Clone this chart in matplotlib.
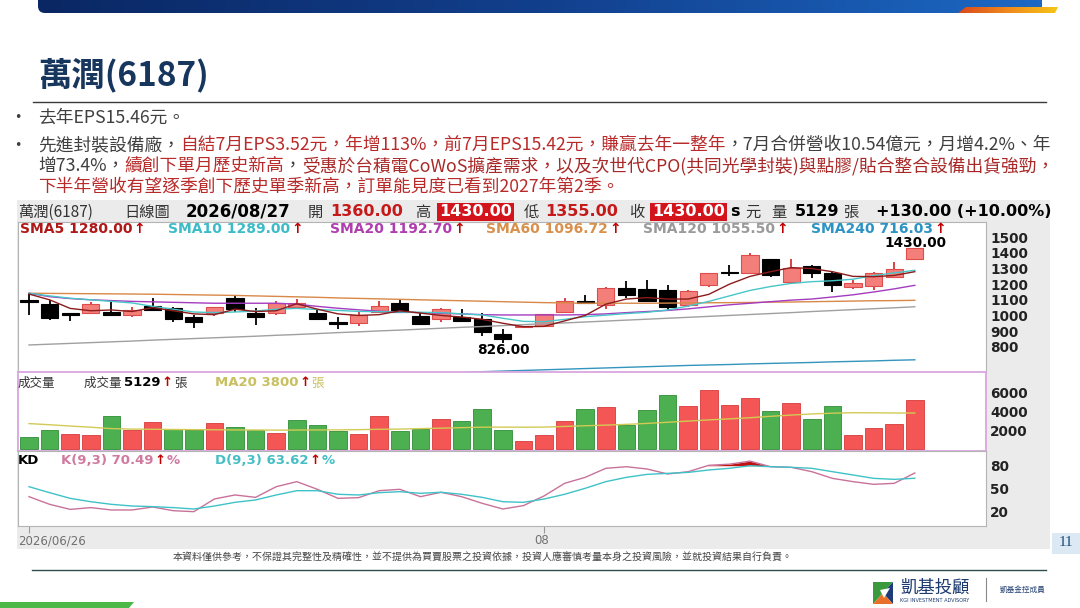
import numpy as np
import matplotlib.pyplot as plt
from matplotlib.colors import LinearSegmentedColormap
from matplotlib.patches import Rectangle, Polygon, FancyBboxPatch

W, H = 1080, 608
CJK = ['Noto Sans CJK TC', 'DejaVu Sans']
LAT = ['DejaVu Sans']

# daily candles, 2026/06/26 .. 2026/08/27
opens = [1100, 1071, 1008, 1014, 1024, 1001, 1060, 1046, 992, 1014, 1110, 1018, 1014, 1052, 1018,
         960, 954, 1024, 1082, 996, 975, 992, 975, 879, 926, 934, 1024, 1086, 1067, 1178,
         1167, 1163, 1067, 1195, 1276, 1274, 1359, 1216, 1318, 1274, 1184, 1191, 1244, 1360]
highs = [1135, 1099, 1012, 1088, 1099, 1052, 1112, 1052, 1000, 1055, 1131, 1050, 1090, 1103, 1035,
         988, 1024, 1092, 1103, 1014, 1045, 1039, 1014, 911, 933, 1012, 1110, 1130, 1180, 1220,
         1227, 1195, 1160, 1274, 1323, 1401, 1362, 1359, 1325, 1285, 1227, 1280, 1344, 1430]
lows = [1000, 971, 965, 1010, 996, 990, 1033, 960, 922, 996, 1024, 939, 1005, 1045, 970,
        912, 932, 1020, 1014, 942, 960, 955, 869, 826, 922, 930, 1020, 1078, 1041, 1114,
        1084, 1035, 1056, 1184, 1255, 1263, 1248, 1212, 1242, 1152, 1167, 1163, 1240, 1355]
closes = [1085, 982, 1005, 1071, 1003, 1035, 1037, 975, 956, 1052, 1039, 990, 1082, 1082, 975,
          945, 1003, 1060, 1024, 945, 1039, 966, 896, 850, 930, 1009, 1094, 1082, 1178, 1131,
          1092, 1056, 1156, 1270, 1272, 1386, 1259, 1306, 1270, 1195, 1205, 1270, 1300, 1430]

sma5 = [1137, 1100, 1045, 1030, 1035, 1025, 1050, 1030, 1010, 1005,
        1040, 1025, 1030, 1075, 1040, 1010, 1000, 1005, 1030, 1015,
        1000, 990, 975, 950, 928, 930, 965, 1000, 1072, 1105,
        1114, 1105, 1105, 1135, 1200, 1250, 1280, 1306, 1300, 1280,
        1250, 1248, 1256, 1280]
sma10 = [1142, 1125, 1110, 1100, 1090, 1080, 1058, 1040, 1022, 1018,
         1022, 1028, 1040, 1045, 1038, 1032, 1026, 1024, 1022, 1020,
         1018, 1010, 1003, 982, 962, 960, 975, 992, 1002, 1012,
         1020, 1035, 1060, 1090, 1125, 1160, 1185, 1205, 1216, 1222,
         1232, 1255, 1272, 1289]
sma20 = [1142, 1120, 1108, 1100, 1095, 1090, 1087, 1084, 1081, 1078,
         1078, 1078, 1078, 1072, 1058, 1046, 1036, 1027, 1022, 1018,
         1014, 1010, 1005, 1003, 1003, 1003, 1003, 1005, 1010, 1018,
         1025, 1032, 1042, 1055, 1068, 1078, 1088, 1098, 1105, 1118,
         1132, 1150, 1170, 1192.7]
sma60 = [1142, 1141, 1140, 1139, 1138, 1137, 1136, 1134, 1132, 1130,
         1128, 1125, 1122, 1119, 1116, 1112, 1109, 1106, 1103, 1100,
         1097, 1094, 1091, 1088, 1085, 1082, 1080, 1078, 1078, 1078,
         1078, 1079, 1080, 1081, 1082, 1083, 1085, 1086, 1088, 1090,
         1092, 1094, 1095, 1096.72]
sma120 = [811, 816, 821, 826, 831, 836, 842, 847, 852, 857,
          862, 867, 873, 878, 884, 890, 895, 901, 906, 912,
          918, 924, 929, 935, 941, 947, 952, 958, 964, 970,
          976, 982, 988, 994, 1000, 1006, 1012, 1018, 1025, 1031,
          1037, 1043, 1049, 1055.5]
sma240 = [548, 552, 556, 560, 564, 568, 572, 576, 580, 584,
          588, 592, 596, 600, 604, 608, 612, 616, 620, 624,
          628, 634, 640, 644, 648, 652, 656, 660, 664, 668,
          672, 676, 680, 683, 686, 690, 693, 696, 699, 703,
          706, 709, 713, 716.03]

volumes = [1250, 2030, 1540, 1430, 3460, 2030, 2850, 2110, 2030, 2790,
           2320, 2030, 1710, 3100, 2560, 1860, 1540, 3500, 1860, 2140,
           3210, 2930, 4210, 1960, 860, 1500, 2960, 4210, 4390, 2570,
           4070, 5710, 4540, 6210, 4600, 5390, 4030, 4850, 3170, 4560,
           1500, 2240, 2680, 5129]
vol_up = [0, 0, 1, 1, 0, 1, 1, 0, 0, 1, 0, 0, 1, 0, 0, 0, 1, 1, 0, 0,
          1, 0, 0, 0, 1, 1, 1, 0, 1, 0, 0, 0, 1, 1, 1, 1, 0, 1, 0, 0,
          1, 1, 1, 1]
vol_ma20 = [2680, 2560, 2420, 2300, 2150, 2100, 2080, 2060, 2040, 2030,
            2010, 2000, 1990, 2000, 2010, 2020, 2040, 2080, 2100, 2150,
            2200, 2250, 2300, 2310, 2300, 2310, 2380, 2450, 2520, 2600,
            2700, 2820, 2950, 3070, 3180, 3300, 3450, 3580, 3700, 3780,
            3830, 3820, 3800, 3800]

k_line = [39.6, 29.6, 23.0, 25.3, 22.2, 22.2, 26.1, 21.3, 20.0, 36.6,
          41.8, 38.7, 52.6, 59.2, 49.2, 37.4, 38.3, 47.4, 49.2, 39.6,
          45.3, 39.6, 30.9, 23.5, 27.9, 40.5, 57.0, 64.8, 76.6, 78.7,
          75.7, 69.2, 72.2, 80.5, 82.0, 86.0, 78.7, 77.9, 72.2, 63.5,
          59.2, 55.7, 57.0, 70.49]
d_line = [52.6, 44.8, 37.4, 33.0, 29.6, 27.4, 26.6, 25.3, 23.5, 27.4,
          32.2, 35.3, 41.8, 47.4, 47.4, 42.7, 41.8, 44.8, 46.1, 44.0,
          45.3, 42.7, 38.7, 33.0, 32.2, 36.5, 42.7, 50.5, 59.2, 64.8,
          68.7, 70.0, 71.3, 74.4, 76.6, 80.0, 78.7, 77.9, 76.6, 72.2,
          67.9, 63.5, 62.2, 63.62]

price_ticks = [800, 900, 1000, 1100, 1200, 1300, 1400, 1500]
vol_ticks = [2000, 4000, 6000]
kd_ticks = [20, 50, 80]
date_ticks = [0, 25]
date_labels = ['2026/06/26', '08']

fig = plt.figure(figsize=(W / 100, H / 100), dpi=100)
fig.patch.set_facecolor('white')
r = fig.canvas.get_renderer()


def full_ax(z):
    ax = fig.add_axes([0, 0, 1, 1], zorder=z)
    ax.axis('off')
    return ax


def pane(x0, y0, x1, y1):
    return fig.add_axes([x0 / W, 1 - y1 / H, (x1 - x0) / W, (y1 - y0) / H], zorder=2)


bg = full_ax(0)
fg = full_ax(5)

# top banner
grad = np.linspace(0, 1, 256).reshape(1, -1)
blue = LinearSegmentedColormap.from_list('b', ['#0a2763', '#123f8c', '#1c68c4'])
im = bg.imshow(grad, extent=(38, 1042, 13, 0), cmap=blue, aspect='auto', zorder=1)
clip = FancyBboxPatch((38, -12), 1004, 25, boxstyle='round,pad=0,rounding_size=7',
                      transform=bg.transData, fc='none', ec='none')
bg.add_patch(clip)
im.set_clip_path(clip)
orange = LinearSegmentedColormap.from_list('o', ['#d9481c', '#f08a1c', '#f5c518'])
im2 = bg.imshow(grad, extent=(958, 1058, 13, 7), cmap=orange, aspect='auto', zorder=2)
stripe = Polygon([(958, 13), (966, 7), (1058, 7), (1055, 13)], closed=True,
                 transform=bg.transData, fc='none', ec='none')
bg.add_patch(stripe)
im2.set_clip_path(stripe)

# title
bg.text(38, 75, '萬潤(6187)', fontsize=24, fontweight='bold', color='#17365d',
        family=CJK, va='center')
bg.plot([33, 1046], [102, 102], color='#3a3a3a', lw=1)


def run(ax, x, y, parts, size, family=CJK, gap=0.0):
    for s, color, weight in parts:
        t = ax.text(x, y, s, fontsize=size, color=color, fontweight=weight,
                    family=family, va='center')
        x += t.get_window_extent(renderer=r).width + gap
    return x


GRAY = '#3f3f3f'
RED = '#b92a2a'
line1 = [('先進封裝設備廠，', GRAY, 'normal'),
         ('自結7月EPS3.52元，年增113%，前7月EPS15.42元，賺贏去年一整年', RED, 'normal'),
         ('，7月合併營收10.54億元，月增4.2%、年', GRAY, 'normal')]
line2 = [('增73.4%，', GRAY, 'normal'),
         ('續創下單月歷史新高', RED, 'normal'),
         ('，', GRAY, 'normal'),
         ('受惠於台積電CoWoS擴產需求，以及次世代CPO(共同光學封裝)與點膠/貼合整合設備出貨強勁，', '#a82828', 'normal')]
line3 = [('下半年營收有望逐季創下歷史單季新高，訂單能見度已看到2027年第2季。', RED, 'normal')]

probe = bg.text(0, 0, ''.join(p[0] for p in line1), fontsize=12, family=CJK)
fs = 12 * 1012 / probe.get_window_extent(renderer=r).width
probe.remove()

bg.text(14, 118, '•', fontsize=9, color=GRAY, va='center')
run(bg, 38, 118, [('去年EPS15.46元。', GRAY, 'normal')], fs)
bg.text(14, 146, '•', fontsize=9, color=GRAY, va='center')
run(bg, 38, 145, line1, fs)
run(bg, 38, 166, line2, fs)
run(bg, 38, 187, line3, fs)

# chart frame
bg.add_patch(Rectangle((17, 200), 1033, 349, fc='#ebebeb', ec='none'))

XL = ((17.5 - 29) / 20.6, (986 - 29) / 20.6)
xs = np.arange(len(opens))

# price pane
ax_p = pane(17.5, 222, 986, 372)
ax_p.set_xlim(*XL)
ax_p.set_ylim(638, 1598)
for i in xs:
    o, h, l, c = opens[i], highs[i], lows[i], closes[i]
    up = c > o
    ax_p.vlines(i, l, h, color='#d83434' if up else 'black', lw=1.3, zorder=3)
    ax_p.add_patch(Rectangle((i - 0.42, min(o, c)), 0.84, max(abs(c - o), 8),
                             fc='#f47f7a' if up else 'black',
                             ec='#de4c4c' if up else 'black', lw=0.8, zorder=4))
for ser, col in [(sma240, '#3394bd'), (sma120, '#a0a0a0'), (sma60, '#d88848'),
                 (sma20, '#a43cc0'), (sma10, '#46c6c8'), (sma5, '#8c1c1c')]:
    ax_p.plot(xs, ser, color=col, lw=1.0, zorder=5)
ax_p.yaxis.tick_right()
ax_p.set_yticks(price_ticks, labels=[str(v) for v in price_ticks],
                fontsize=9.8, fontweight='bold', color='#222')
ax_p.set_xticks([])
ax_p.tick_params(axis='y', length=0, pad=3)

# volume pane
ax_v = pane(17.5, 372, 986, 451)
ax_v.set_xlim(*XL)
ax_v.set_ylim(-214, 8130)
ax_v.bar(xs, volumes, width=0.86,
         color=['#f45656' if u else '#4caf50' for u in vol_up],
         edgecolor=['#d63c3c' if u else '#2f8e36' for u in vol_up], lw=0.6, zorder=3)
ax_v.plot(xs, vol_ma20, color='#d2ca55', lw=1.0, zorder=4)
ax_v.yaxis.tick_right()
ax_v.set_yticks(vol_ticks, labels=[str(v) for v in vol_ticks],
                fontsize=9.8, fontweight='bold', color='#222')
ax_v.set_xticks([])
ax_v.tick_params(axis='y', length=0, pad=3)

# KD pane
ax_k = pane(17.5, 451, 986, 526)
ax_k.set_xlim(*XL)
ax_k.set_ylim(1.3, 99.2)
k_arr = np.array(k_line)
ax_k.fill_between(xs, k_arr, 80, where=k_arr > 80, interpolate=True, color='#c01010', lw=0)
ax_k.plot(xs, k_line, color='#c8729a', lw=1.0)
ax_k.plot(xs, d_line, color='#3ec2c8', lw=1.0)
ax_k.yaxis.tick_right()
ax_k.set_yticks(kd_ticks, labels=[str(v) for v in kd_ticks],
                fontsize=9.8, fontweight='bold', color='#222')
ax_k.tick_params(axis='y', length=0, pad=3)
ax_k.set_xticks(date_ticks)
ax_k.tick_params(axis='x', length=5, color='#999999', labelbottom=False)

for ax in (ax_p, ax_k):
    ax.set_facecolor('white')
    for s in ax.spines.values():
        s.set_color('#b4b4b4')
        s.set_linewidth(0.8)
ax_v.set_facecolor('white')
for s in ax_v.spines.values():
    s.set_color('#d9a6df')
    s.set_linewidth(1.3)

# date labels
fg.text(18, 541, date_labels[0], fontsize=8.5, color='#707070', va='center')
fg.text(542, 541, date_labels[1], fontsize=8.5, color='#707070', va='center', ha='center')

# header row
HY = 212
DK = '#333333'
PR = '#c41a1a'
fg.text(18.5, HY, '萬潤(6187)', fontsize=11, color=DK, family=CJK, va='center')
fg.text(124.7, HY, '日線圖', fontsize=11, color=DK, family=CJK, va='center')
fg.text(186, HY, '2026/08/27', fontsize=12, color='black', fontweight='bold', va='center')
for x, s in [(308, '開'), (415, '高'), (523.6, '低'), (629, '收'), (745, '元'), (771, '量'), (843, '張')]:
    fg.text(x, HY, s, fontsize=11, color=DK, family=CJK, va='center')
for x, s in [(330.5, '1360.00'), (545, '1355.00')]:
    fg.text(x, HY, s, fontsize=11.5, color=PR, fontweight='bold', va='center')
for x in (439, 652):
    fg.text(x, HY, '1430.00', fontsize=11.5, color='white', fontweight='bold', va='center',
            bbox=dict(boxstyle='square,pad=0.12', fc='#d4141c', ec='none'))
fg.text(730, HY, 's', fontsize=11.5, color='black', fontweight='bold', va='center')
fg.text(795, HY, '5129', fontsize=11.5, color='black', fontweight='bold', va='center')
fg.text(876, HY, '+130.00 (+10.00%)', fontsize=11.5, color='black', fontweight='bold', va='center')

# moving average labels
ARW = '#c00000'
sma_labels = [(20, 'SMA5 1280.00', '#b01818'), (168.5, 'SMA10 1289.00', '#3cbcc8'),
              (330.5, 'SMA20 1192.70', '#b03cb0'), (486, 'SMA60 1096.72', '#d8904c'),
              (643, 'SMA120 1055.50', '#9a9a9a'), (811, 'SMA240 716.03', '#2c94c4')]
for x, s, col in sma_labels:
    run(fg, x, 229, [(s, col, 'bold'), ('↑', ARW, 'bold')], 10, family=LAT, gap=1)
fg.text(915, 243, '1430.00', fontsize=9.8, fontweight='bold', color='black', ha='center', va='center')
fg.text(503, 350, '826.00', fontsize=9.8, fontweight='bold', color='black', ha='center', va='center')

# volume labels
fg.text(18, 383, '成交量', fontsize=9, color=DK, family=CJK, va='center')
x = run(fg, 84, 383, [('成交量 ', DK, 'normal')], 9)
x = run(fg, x, 383, [('5129', 'black', 'bold'), ('↑', ARW, 'bold')], 9.5, family=LAT, gap=1)
run(fg, x, 383, [('張', DK, 'normal')], 9)
x = run(fg, 215, 383, [('MA20 3800', '#c8c060', 'bold'), ('↑', ARW, 'bold')], 9.5, family=LAT, gap=1)
run(fg, x, 383, [('張', '#c8c060', 'normal')], 9)

# KD labels
fg.text(18, 460, 'KD', fontsize=9.5, color='black', fontweight='bold', va='center')
run(fg, 61, 460, [('K(9,3) 70.49', '#d07aa0', 'bold'), ('↑', ARW, 'bold'), ('%', '#d07aa0', 'bold')],
    9.5, family=LAT, gap=1)
run(fg, 215, 460, [('D(9,3) 63.62', '#45bec6', 'bold'), ('↑', ARW, 'bold'), ('%', '#45bec6', 'bold')],
    9.5, family=LAT, gap=1)

# footer
bg.add_patch(Rectangle((1052, 533), 28, 21, fc='#dce9f5', ec='none'))
bg.text(1066, 543, '11', fontsize=11, color='#1f4e79', family=['Liberation Serif'],
        ha='center', va='center')
bg.text(173, 558, '本資料僅供參考，不保證其完整性及精確性，並不提供為買賣股票之投資依據，投資人應審慎考量本身之投資風險，並就投資結果自行負責。',
        fontsize=7.2, color='#444444', family=CJK, va='center')
bg.plot([32, 1046], [570, 570], color='#2f4b4b', lw=1)

bg.add_patch(Polygon([(873, 582), (893, 582), (873, 604)], closed=True, fc='#3b9a3e', ec='none'))
bg.add_patch(Polygon([(893, 582), (893, 604), (883, 593)], closed=True, fc='#1d3b78', ec='none'))
bg.add_patch(Polygon([(873, 604), (893, 604), (883, 593)], closed=True, fc='#e8702a', ec='none'))
bg.add_patch(Polygon([(880, 590), (890, 588), (884, 598)], closed=True, fc='white', ec='none'))
bg.text(900, 588, '凱基投顧', fontsize=12.5, color='#1c3a6e', family=CJK, va='center')
bg.text(900, 600, 'KGI INVESTMENT ADVISORY', fontsize=3.6, color='#1c3a6e', va='center')
bg.plot([986, 986], [578, 601], color='#8a8a8a', lw=0.8)
bg.text(1000, 590, '凱基金控成員', fontsize=5.5, color='#1c3a6e', family=CJK, va='center')
bg.add_patch(Polygon([(0, 602), (134, 602), (129, 608), (0, 608)], closed=True, fc='#4cb848', ec='none'))

for ax in (bg, fg):
    ax.set_xlim(0, W)
    ax.set_ylim(H, 0)

fig.savefig('out.png', dpi=100, facecolor='white')
